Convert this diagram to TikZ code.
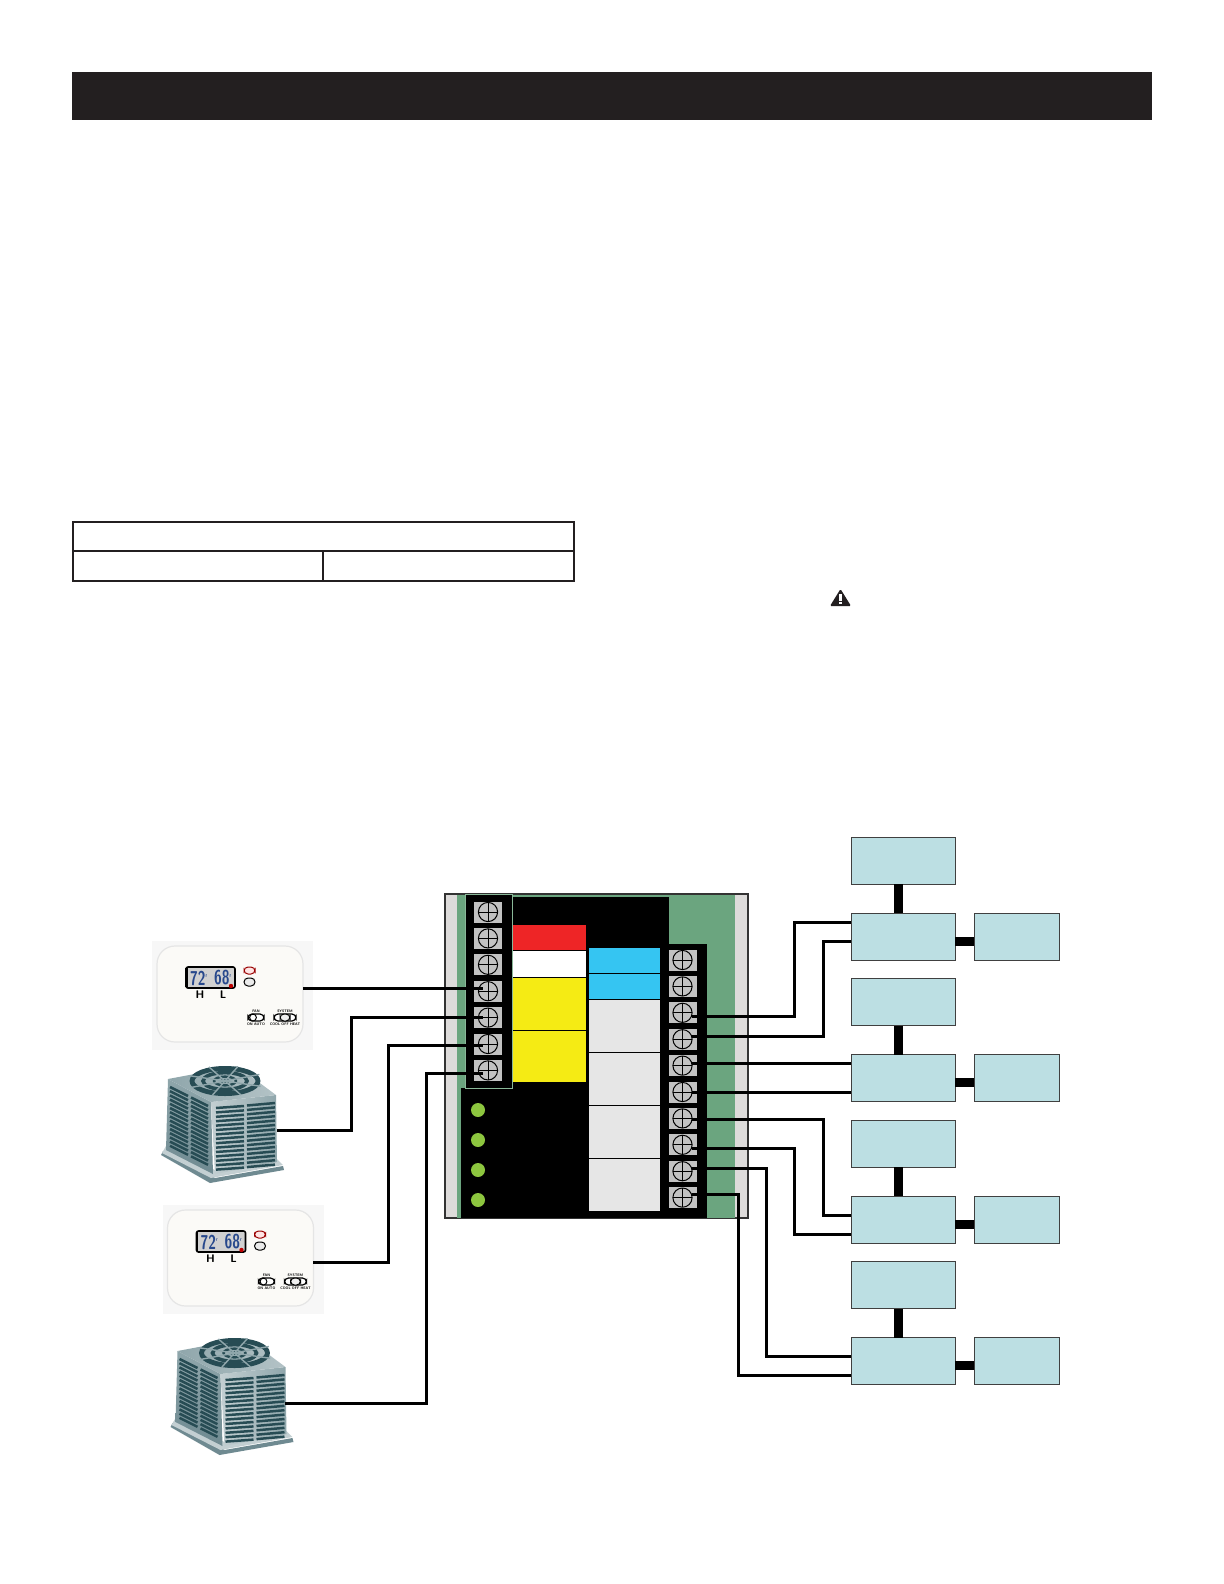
\documentclass[tikz,border=0pt]{standalone}
\usepackage{tikz}
\usetikzlibrary{positioning}
\definecolor{barblack}{HTML}{231F20}
\definecolor{boardgreen}{HTML}{6BA57F}
\definecolor{railgrey}{HTML}{DDDBDA}
\definecolor{screwgrey}{HTML}{C2C2C2}
\definecolor{blockblue}{HTML}{BCDFE3}
\definecolor{relayred}{HTML}{EE2526}
\definecolor{relayyellow}{HTML}{F5EB14}
\definecolor{relayblue}{HTML}{35C5F2}
\definecolor{relaygrey}{HTML}{E6E6E6}
\definecolor{ledgreen}{HTML}{8DC63F}
\definecolor{finlight}{HTML}{8FA6AB}
\definecolor{finpale}{HTML}{C3CFD2}
\definecolor{finmid}{HTML}{6F8A91}
\definecolor{findark}{HTML}{274C54}
\definecolor{lcdblue}{HTML}{27488C}
\definecolor{statwhite}{HTML}{FBFAF7}
\tikzset{screw/.style={rectangle,fill=screwgrey,inner sep=0pt,outer sep=0pt,minimum width=14pt,minimum height=10.5pt,
	 path picture={\draw[line width=.5pt] (path picture bounding box.center) circle (4.8pt);
		\draw[line width=.5pt] ([xshift=-4.8pt]path picture bounding box.center) to ([xshift=4.8pt]path picture bounding box.center);
		\draw[line width=.5pt] ([yshift=-4.8pt]path picture bounding box.center) to ([yshift=4.8pt]path picture bounding box.center);}},
	 cell/.style={rectangle,inner sep=0pt,outer sep=0pt,minimum width=36.5pt},
	 gcell/.style={cell,fill=relaygrey,minimum width=35.5pt,minimum height=26pt},
	 led/.style={circle,fill=ledgreen,inner sep=0pt,minimum size=7pt},
	 block/.style={rectangle,draw=black!75,line width=.5pt,fill=blockblue,inner sep=0pt,outer sep=0pt,minimum width=52pt,minimum height=23.5pt},
	 auxblock/.style={block,minimum width=42.5pt},
	 wire/.style={line width=1.5pt,line join=miter},
	 bus/.style={line width=4.5pt},
	 tiny/.style={font=\fontsize{1.8}{2}\selectfont\sffamily\bfseries,inner sep=0pt},
	 digits/.style={font=\fontsize{10}{10}\selectfont\sffamily\bfseries,text=lcdblue,inner sep=0pt},
	 node distance = 2.7pt
	 }
\tikzset{thermostat/.pic={
	\fill[black!3] (2,6) rectangle (163,115);
	\draw[black!10,fill=statwhite,line width=.6pt,rounded corners=9pt] (7,11) rectangle (153,107);
	\draw[line width=.8pt,fill=black!18,rounded corners=1pt] (36,32) rectangle (85,53);
	\draw[line width=1.4pt] (36.5,33) to (36.5,52);
	\node[digits] (-hi) at (49,43) {\scalebox{.7}[1]{72\textsuperscript{\fontsize{3}{3}\selectfont r}}};
	\node[digits] (-lo) at (73,43) {\scalebox{.7}[1]{68\textsuperscript{\fontsize{3}{3}\selectfont r}}};
	\fill[red!75!black] (81,51) circle (1.1pt);
	\node[font=\fontsize{5.5}{6}\selectfont\sffamily\bfseries,inner sep=0pt] (-h) at (50,60) {H};
	\node[font=\fontsize{5.5}{6}\selectfont\sffamily\bfseries,inner sep=0pt] (-l) at (73,60) {L};
	\draw[red!60!black,fill=red!10,line width=.5pt,rounded corners=2pt] (94,32) rectangle (105,39);
	\draw[line width=.5pt,fill=black!8,rounded corners=2pt] (94,43) rectangle (105,51);
	\draw[line width=.6pt,fill=white,rounded corners=2pt] (98,79) rectangle (114,86);
	\draw[line width=.5pt,fill=white] (103,82.5) circle (1.7pt);
	\draw[line width=.6pt,fill=white,rounded corners=2pt] (124,79) rectangle (146,86);
	\draw[line width=.5pt,fill=black!6,rounded corners=2pt] (130,79) rectangle (140,86);
	\node[tiny] (-fan) at (106,76.5) {FAN};
	\node[tiny] (-fanset) at (106,89) {ON~AUTO};
	\node[tiny] (-sys) at (135,76.5) {SYSTEM};
	\node[tiny] (-sysset) at (135,89) {COOL OFF HEAT};
	}}
\tikzset{condenser/.pic={
	% base
	\fill[finmid] (6,95) -- (55,123) -- (129,110) -- (128,106) -- (60,118) -- (8,91) -- cycle;
	\fill[finpale] (7,93) -- (56,118) -- (128,105) -- (121,98) -- (60,110) -- (11,86) -- cycle;
	% faces
	\shade[top color=finlight,bottom color=finmid] (13,19) -- (56,42) -- (58,114) -- (11,90) -- cycle;
	\shade[left color=finpale,right color=finlight] (56,42) -- (121,35) -- (122,102) -- (60,114) -- cycle;
	\shade[left color=finlight,right color=finpale!70!finlight] (13,19) -- (82,6) -- (121,35) -- (56,42) -- cycle;
	% louvers
	\foreach \n in {0,...,14} {
		\draw[findark,line width=1.25pt] (61,{48+4.4*\n}) -- (89,{46+4.4*\n});
		\draw[findark,line width=1.25pt] (92,{45.5+4.4*\n}) -- (120,{43+4.4*\n});
		\draw[findark,line width=1.25pt] (15,{27+4.2*\n}) -- (33,{36+4.2*\n});
		\draw[findark,line width=1.25pt] (36,{37.5+4.2*\n}) -- (53,{46+4.2*\n});
	}
	% fan
	\draw[findark,line width=2.4pt] (70,21) ellipse [x radius=16.5pt,y radius=6.3pt];
	\draw[findark,line width=1.8pt] (70,21) ellipse [x radius=11pt,y radius=4.2pt];
	\draw[findark,line width=1.2pt] (70,21) ellipse [x radius=5.5pt,y radius=2.2pt];
	\fill[findark] (70,21) ellipse [x radius=2.5pt,y radius=1.1pt];
	\foreach \a in {20,65,...,335}
		\draw[finlight,line width=.7pt] (70,21) -- ({70+38*cos(\a)},{21+15.5*sin(\a)});
	}}

\begin{document}
\begin{tikzpicture}[x=.5pt,y=-.5pt]
	\useasboundingbox (0,0) rectangle (1224,1584);
	% heading bar and table
	\fill[barblack] (72,72) rectangle (1152,120);
	\draw[barblack,line width=1pt] (73,522) rectangle (574,581);
	\draw[barblack,line width=1pt] (73,551) to (574,551);
	\draw[barblack,line width=.7pt] (323,551) to (323,581);
	\fill[barblack,rounded corners=.6pt] (840.5,589) -- (851,606) -- (830,606) -- cycle;
	\fill[white] (839.2,594) rectangle (841.8,601);
	\fill[white] (839.2,602) rectangle (841.8,604.2);

	% board
	\draw[black!80,fill=railgrey,line width=.6pt] (445,894) rectangle (748,1218);
	\fill[boardgreen] (457,894.5) rectangle (735,1217.5);
	\fill[black] (512,897) rectangle (669,944);
	\fill[black] (512,944) rectangle (707,1218);
	\fill[black] (461,1088) rectangle (512,1218);
	\draw[boardgreen!80!white,fill=black,line width=.4pt] (465,894) rectangle (512,1088);

	\node[cell,fill=relayred,minimum height=12.5pt] (k1) at (549.5,937.5) {};
	\node[cell,fill=white,minimum height=13pt] (k2) [below=.5pt of k1] {};
	\node[cell,fill=relayyellow,minimum height=26pt] (k3) [below=.5pt of k2] {};
	\node[cell,fill=relayyellow,minimum height=25.5pt] (k4) [below=.5pt of k3] {};
	\node[cell,fill=relayblue,minimum width=35.5pt,minimum height=12.5pt] (b1) at (624.5,960.5) {};
	\node[cell,fill=relayblue,minimum width=35.5pt,minimum height=12.5pt] (b2) [below=.5pt of b1] {};
	\node[gcell] (g1) [below=.5pt of b2] {};
	\node[gcell] (g2) [below=.5pt of g1] {};
	\node[gcell] (g3) [below=.5pt of g2] {};
	\node[gcell] (g4) [below=.5pt of g3] {};

	\node[led] (d1) at (478,1110) {};
	\node[led] (d2) at (478,1140) {};
	\node[led] (d3) at (478,1170) {};
	\node[led] (d4) at (478,1200) {};

	\node[screw] (ls1) at (488,912) {};
	\node[screw] (ls2) [below=of ls1] {};
	\node[screw] (ls3) [below=of ls2] {};
	\node[screw] (ls4) [below=of ls3] {};
	\node[screw] (ls5) [below=of ls4] {};
	\node[screw] (ls6) [below=of ls5] {};
	\node[screw] (ls7) [below=of ls6] {};

	\node[screw] (rs1) at (682.5,960) {};
	\node[screw] (rs2) [below=of rs1] {};
	\node[screw] (rs3) [below=of rs2] {};
	\node[screw] (rs4) [below=of rs3] {};
	\node[screw] (rs5) [below=of rs4] {};
	\node[screw] (rs6) [below=of rs5] {};
	\node[screw] (rs7) [below=of rs6] {};
	\node[screw] (rs8) [below=of rs7] {};
	\node[screw] (rs9) [below=of rs8] {};
	\node[screw] (rs10) [below=of rs9] {};

	% blocks on the right
	\node[block] (up1) at (903,860.5) {};
	\node[block] (mid1) [below=14.5pt of up1] {};
	\node[auxblock] (aux1) [right=9.5pt of mid1] {};
	\node[block] (up2) [below=9.25pt of mid1] {};
	\node[block] (mid2) [below=14.5pt of up2] {};
	\node[auxblock] (aux2) [right=9.5pt of mid2] {};
	\node[block] (up3) [below=9.25pt of mid2] {};
	\node[block] (mid3) [below=14.5pt of up3] {};
	\node[auxblock] (aux3) [right=9.5pt of mid3] {};
	\node[block] (up4) [below=9.25pt of mid3] {};
	\node[block] (mid4) [below=14.5pt of up4] {};
	\node[auxblock] (aux4) [right=9.5pt of mid4] {};

	\draw[bus] ([xshift=-2.4pt]up1.south) to ([xshift=-2.4pt]mid1.north);
	\draw[bus] ([xshift=-2.4pt]up2.south) to ([xshift=-2.4pt]mid2.north);
	\draw[bus] ([xshift=-2.4pt]up3.south) to ([xshift=-2.4pt]mid3.north);
	\draw[bus] ([xshift=-2.4pt]up4.south) to ([xshift=-2.4pt]mid4.north);
	\draw[bus] ([yshift=-2.4pt]mid1.east) to ([yshift=-2.4pt]aux1.west);
	\draw[bus] ([yshift=-2.4pt]mid2.east) to ([yshift=-2.4pt]aux2.west);
	\draw[bus] ([yshift=-2.4pt]mid3.east) to ([yshift=-2.4pt]aux3.west);
	\draw[bus] ([yshift=-2.4pt]mid4.east) to ([yshift=-2.4pt]aux4.west);

	% thermostats and outdoor units
	\pic (th1) at (150,935) {thermostat};
	\pic (th2) at (160.5,1199) {thermostat};
	\pic (cd1) at (155,1060) {condenser};
	\pic (cd2) at (164.5,1332) {condenser};

	\coordinate (th1out) at (303,988);
	\coordinate (th2out) at (313,1262);
	\coordinate (cd1out) at (277,1130);
	\coordinate (cd2out) at (285,1403);
	\coordinate (lb1) at (351,1100);
	\coordinate (lb2) at (388,1200);
	\coordinate (lb3) at (426,1300);
	\coordinate (rb1) at (794,980);
	\coordinate (rb2) at (823,990);
	\coordinate (rb5) at (823,1160);
	\coordinate (rb6) at (794,1190);
	\coordinate (rb7) at (766,1260);
	\coordinate (rb8) at (738,1290);

	\draw[wire] (th1out) to ([xshift=-2.5pt]th1out -| ls4.center);
	\draw[wire] (cd1out) -| (lb1) |- ([xshift=-2.5pt]ls5.center);
	\draw[wire] (th2out) -| (lb2) |- ([xshift=-2.5pt,yshift=-.5pt]ls6.center);
	\draw[wire] (cd2out) -| (lb3) |- ([xshift=-2.5pt,yshift=-1.3pt]ls7.center);

	\draw[wire] ([xshift=4.5pt,yshift=-2pt]rs3.center) -| (rb1) |- ([yshift=7.25pt]mid1.west);
	\draw[wire] ([xshift=4.5pt,yshift=1.5pt]rs4.center) -| (rb2) |- ([yshift=-2.5pt]mid1.west);
	\draw[wire] ([xshift=4.5pt,yshift=1pt]rs5.center) to ([yshift=1pt]rs5.center -| mid2.west);
	\draw[wire] ([xshift=4.5pt]rs6.center) to (rs6.center -| mid2.west);
	\draw[wire] ([xshift=4.5pt,yshift=-.5pt]rs7.center) -| (rb5) |- ([yshift=2.25pt]mid3.west);
	\draw[wire] ([xshift=4.5pt,yshift=-2pt]rs8.center) -| (rb6) |- ([yshift=-7.25pt]mid3.west);
	\draw[wire] ([xshift=4.5pt,yshift=1.5pt]rs9.center) -| (rb7) |- ([yshift=2.5pt]mid4.west);
	\draw[wire] ([xshift=4.5pt,yshift=1.5pt]rs10.center) -| (rb8) |- ([yshift=-7pt]mid4.west);
\end{tikzpicture}
\end{document}
